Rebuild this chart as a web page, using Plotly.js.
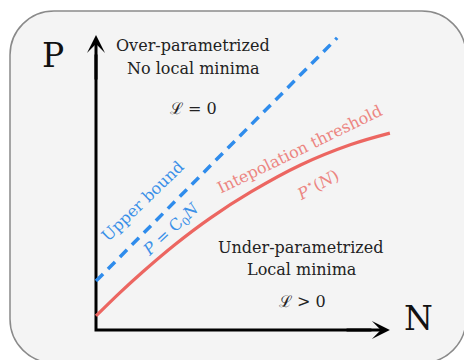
<!DOCTYPE html>
<html><head><meta charset="utf-8">
<script src="https://cdn.plot.ly/plotly-3.0.1.min.js"></script>
<style>html,body{margin:0;padding:0;background:#fff}#c{width:464px;height:360px}</style>
</head><body><div id="c"></div>
<script>
// Schematic data, in axis units (N and P both run from 0 to ~10)
const axisN = [0, 0, 9.4];
const axisP = [9.4, 0, 0];
const arrowTipN = 10.03;
const arrowTipP = 10.07;
const upperN = [0, 8.23];
const upperP = [1.67, 9.97];
const threshN = [0, 0.8, 1.6, 2.7, 3.9, 5.3, 7.0, 8.7, 10.03];
const threshP = [0.48, 1.26, 1.99, 2.92, 3.82, 4.72, 5.64, 6.33, 6.72];

const W = 464, H = 360;
const fx = x => x / W, fy = y => 1 - y / H;

// rounded frame
function roundRect(x0, y0, x1, y1, r) {
  const k = 0.5523 * r;
  const P = (x, y) => fx(x).toFixed(5) + ',' + fy(y).toFixed(5);
  return 'M' + P(x0 + r, y0) + ' L' + P(x1 - r, y0) +
    ' C' + P(x1 - r + k, y0) + ' ' + P(x1, y0 + r - k) + ' ' + P(x1, y0 + r) +
    ' L' + P(x1, y1 - r) +
    ' C' + P(x1, y1 - r + k) + ' ' + P(x1 - r + k, y1) + ' ' + P(x1 - r, y1) +
    ' L' + P(x0 + r, y1) +
    ' C' + P(x0 + r - k, y1) + ' ' + P(x0, y1 - r + k) + ' ' + P(x0, y1 - r) +
    ' L' + P(x0, y0 + r) +
    ' C' + P(x0, y0 + r - k) + ' ' + P(x0 + r - k, y0) + ' ' + P(x0 + r, y0) + ' Z';
}

const serif = 'DejaVu Serif, serif';
const BLUE = '#2f8cec', BLUE_T = '#3b90e8', RED = '#ec6661', RED_T = '#ec8581', INK = '#222';

const traces = [
  {x: axisN, y: axisP, mode: 'lines', line: {color: '#000', width: 3}, hoverinfo: 'skip'},
  {x: upperN, y: upperP, mode: 'lines', line: {color: BLUE, width: 3.5, dash: '10px,7px'}, hoverinfo: 'skip'},
  {x: threshN, y: threshP, mode: 'lines', line: {color: RED, width: 3.2, shape: 'spline'}, hoverinfo: 'skip'}
];

function txt(x, y, text, size, color, angle) {
  return {xref: 'paper', yref: 'paper', x: fx(x), y: fy(y), text: text, showarrow: false,
    xanchor: 'center', yanchor: 'middle', textangle: angle || 0,
    font: {family: serif, size: size, color: color}};
}
function arrow(x, y, ax, ay) {
  return {xref: 'x', yref: 'y', axref: 'x', ayref: 'y', x: x, y: y, ax: ax, ay: ay,
    text: '', showarrow: true, arrowhead: 3, arrowsize: 1.0, arrowwidth: 3,
    arrowcolor: '#000', standoff: 0, startstandoff: 0};
}

const layout = {
  width: W, height: H, margin: {l: 0, r: 0, t: 0, b: 0},
  paper_bgcolor: '#fff', plot_bgcolor: 'rgba(0,0,0,0)', showlegend: false,
  xaxis: {range: [-96 / 29.3, 368 / 29.3], visible: false, fixedrange: true},
  yaxis: {range: [-30 / 29.3, 330 / 29.3], visible: false, fixedrange: true},
  shapes: [{type: 'path', xref: 'paper', yref: 'paper', layer: 'below',
    path: roundRect(10, 11, 466, 363, 44),
    fillcolor: '#f4f4f4', line: {color: '#8a8a8a', width: 1.5}}],
  annotations: [
    arrow(0, arrowTipP, 0, 8.5),
    arrow(arrowTipN, 0, 8.5, 0),
    txt(53, 55, 'P', 33, '#111'),
    txt(418, 318, 'N', 33, '#111'),
    txt(193, 45, 'Over-parametrized', 16, INK),
    txt(193, 68, 'No local minima', 16, INK),
    txt(193, 108, 'ℒ = 0', 16, INK),
    txt(301, 247, 'Under-parametrized', 16, INK),
    txt(302, 269, 'Local minima', 16, INK),
    txt(302, 301, 'ℒ > 0', 16, INK),
    txt(142, 201, 'Upper bound', 16, BLUE_T, -44),
    txt(172, 230, '<i>P</i> = C<sub>0</sub><i>N</i>', 16, BLUE_T, -43),
    txt(299, 149, 'Intepolation threshold', 16, RED_T, -26),
    txt(317, 185, '<i>P</i><sup>⋆</sup>(<i>N</i>)', 16, RED_T, -29)
  ]
};

Plotly.newPlot('c', traces, layout, {staticPlot: true, displayModeBar: false});
</script>
</body></html>
